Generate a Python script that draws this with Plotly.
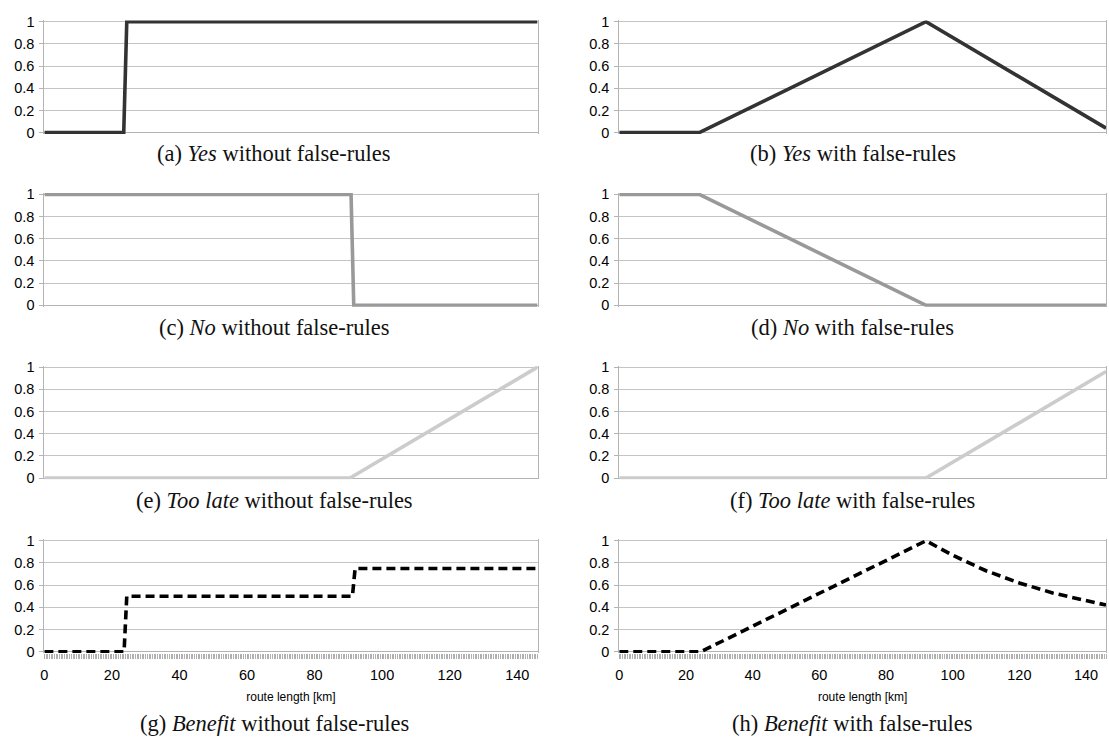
import plotly.graph_objects as go

W, H = 1109, 747

# ---------------- data ----------------
x_yes_wo = [0, 23.5, 24.4, 146]
yes_wo = [0, 0, 1, 1]
x_yes_w = [0, 24, 92, 146]
yes_w = [0, 0, 1, 0.04]

x_no_wo = [0, 90.8, 91.6, 146]
no_wo = [1, 1, 0, 0]
x_no_w = [0, 24, 92, 146]
no_w = [1, 1, 0, 0]

x_late_wo = [0, 90.5, 146]
late_wo = [0, 0, 1]
x_late_w = [0, 92, 146]
late_w = [0, 0, 0.96]

x_ben_wo = [0, 23.6, 24.4, 91.2, 92.0, 146]
ben_wo = [0, 0, 0.5, 0.5, 0.75, 0.75]
x_ben_w = [0, 24.5, 92, 100, 110, 120, 130, 140, 146]
ben_w = [0, 0, 1, 0.87, 0.73, 0.62, 0.53, 0.46, 0.42]

y_ticks = [0, 0.2, 0.4, 0.6, 0.8, 1]
y_tick_text = ["0", "0.2", "0.4", "0.6", "0.8", "1"]
x_ticks = [0, 20, 40, 60, 80, 100, 120, 140]
x_title = "route length [km]"

captions = [
    "(a) <i>Yes</i> without false-rules", "(b) <i>Yes</i> with false-rules",
    "(c) <i>No</i> without false-rules", "(d) <i>No</i> with false-rules",
    "(e) <i>Too late</i> without false-rules", "(f) <i>Too late</i> with false-rules",
    "(g) <i>Benefit</i> without false-rules", "(h) <i>Benefit</i> with false-rules",
]

panels = [
    (x_yes_wo, yes_wo, "#333333", "solid"), (x_yes_w, yes_w, "#333333", "solid"),
    (x_no_wo, no_wo, "#999999", "solid"), (x_no_w, no_w, "#999999", "solid"),
    (x_late_wo, late_wo, "#cccccc", "solid"), (x_late_w, late_w, "#cccccc", "solid"),
    (x_ben_wo, ben_wo, "#000000", "9px,5px"), (x_ben_w, ben_w, "#000000", "9px,5px"),
]

# ---------------- layout geometry (pixels) ----------------
X_MAX = 146
YPAD = 0.012
col_px = [(40.5, 40.5 + X_MAX * 3.39), (617.5, 617.5 + X_MAX * 3.346)]
row_top = [15, 191, 367, 544]
row_h = 113
cap_y = [149, 327, 503, 730]
cap_x = [271, 852]

fig = go.Figure()
layout = dict(
    width=W, height=H, margin=dict(l=0, r=0, t=0, b=0),
    paper_bgcolor="white", plot_bgcolor="white", showlegend=False,
    font=dict(family="Liberation Sans, Arial", size=14.5, color="#000000"),
)

annotations = []
for i, (xs, ys, col, dash) in enumerate(panels):
    r, c = divmod(i, 2)
    n = i + 1
    xa = "x" if n == 1 else f"x{n}"
    ya = "y" if n == 1 else f"y{n}"
    fig.add_trace(go.Scatter(x=xs, y=ys, mode="lines", xaxis=xa, yaxis=ya,
                             line=dict(color=col, width=3.6, dash=dash),
                             hoverinfo="skip"))
    x0, x1 = col_px[c]
    top = row_top[r] - YPAD * row_h
    bot = row_top[r] + row_h + YPAD * row_h
    bottom_row = (r == 3)
    xaxis = dict(
        domain=[x0 / W, x1 / W], range=[0, X_MAX], anchor=ya,
        showgrid=False, zeroline=False, showline=False,
        showticklabels=bottom_row,
        tickmode="array", tickvals=x_ticks, ticks="outside" if bottom_row else "",
        ticklen=5, tickcolor="#aaaaaa", tickwidth=1,
        tickfont=dict(size=14.5), ticklabelstandoff=4,
    )
    if bottom_row:
        xaxis["minor"] = dict(dtick=0.5, tick0=0, ticks="outside", ticklen=5,
                              tickcolor="#b0b0b0", tickwidth=1, showgrid=False)
        xaxis["title"] = dict(text=x_title, font=dict(size=12), standoff=10)
    yaxis = dict(
        domain=[1 - bot / H, 1 - top / H], range=[-YPAD, 1 + YPAD], anchor=xa,
        tickmode="array", tickvals=y_ticks, ticktext=y_tick_text,
        showgrid=True, gridcolor="#c4c4c4", gridwidth=1,
        zeroline=True, zerolinecolor="#b4b4b4", zerolinewidth=1,
        showline=True, linecolor="#b4b4b4", linewidth=1, mirror=True,
        ticks="outside", ticklen=4, tickcolor="#b4b4b4",
        tickfont=dict(size=14.5), ticklabelstandoff=2,
    )
    layout["xaxis" if n == 1 else f"xaxis{n}"] = xaxis
    layout["yaxis" if n == 1 else f"yaxis{n}"] = yaxis
    annotations.append(dict(
        text=captions[i], xref="paper", yref="paper",
        x=cap_x[c] / W, y=1 - cap_y[r] / H, xanchor="center", yanchor="middle",
        showarrow=False, font=dict(family="Liberation Serif, serif", size=22.5, color="#111111"),
    ))

layout["annotations"] = annotations
fig.update_layout(**layout)
fig.write_html("out.html")
